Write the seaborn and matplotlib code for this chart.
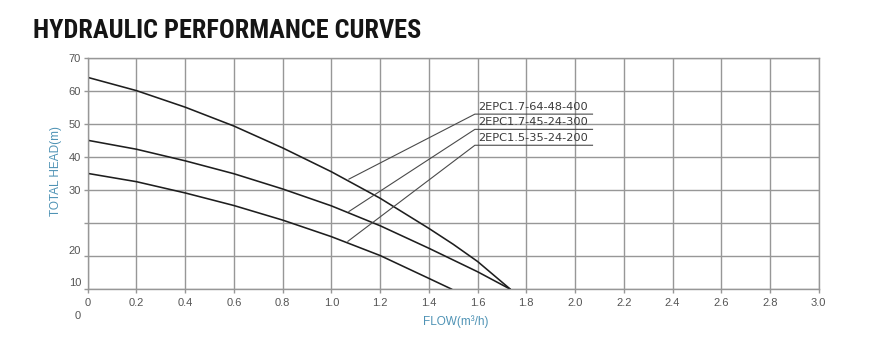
import matplotlib
matplotlib.use("Agg")
import matplotlib.pyplot as plt
import matplotlib.transforms as mtransforms
import numpy as np
import pandas as pd
import seaborn as sns

# ---------------- data ----------------
models = ["2EPC1.7-64-48-400", "2EPC1.7-45-24-300", "2EPC1.5-35-24-200"]

flow_a = [0.0, 0.2, 0.4, 0.6, 0.8, 1.0, 1.2, 1.4, 1.5, 1.6, 1.735]
head_a = [64.0, 60.0, 55.0, 49.3, 42.7, 35.5, 27.5, 18.4, 13.6, 8.4, 0.0]

flow_b = [0.0, 0.2, 0.4, 0.6, 0.8, 1.0, 1.2, 1.4, 1.6, 1.735]
head_b = [45.0, 42.3, 38.8, 34.9, 30.3, 25.2, 19.2, 12.4, 5.3, 0.0]

flow_c = [0.0, 0.2, 0.4, 0.6, 0.8, 1.0, 1.2, 1.4, 1.495]
head_c = [35.0, 32.5, 29.1, 25.3, 20.9, 15.9, 10.2, 3.3, 0.0]

# leader line: point on curve -> start of underline
leader_start_x = [1.070, 1.070, 1.066]
leader_start_y = [33.2, 23.4, 14.4]
label_x = [1.589, 1.589, 1.589]
label_y = [52.9, 48.3, 43.5]
label_end_x = 2.074

x_ticks = [0.0, 0.2, 0.4, 0.6, 0.8, 1.0, 1.2, 1.4, 1.6, 1.8, 2.0, 2.2, 2.4, 2.6, 2.8, 3.0]
x_tick_labels = ["0", "0.2", "0.4", "0.6", "0.8", "1.0", "1.2", "1.4", "1.6", "1.8",
                 "2.0", "2.2", "2.4", "2.6", "2.8", "3.0"]
y_ticks = [0, 10, 20, 30, 40, 50, 60, 70]
y_tick_labels = ["", "", "", "30", "40", "50", "60", "70"]
# the lower labels of the original sit off their grid lines
y_extra_labels = ["20", "10", "0"]
y_extra_pos = [11.65, 1.8, -8.1]

title = "HYDRAULIC PERFORMANCE CURVES"
x_label = "FLOW(m\u00b3/h)"
y_label = "TOTAL HEAD(m)"

# ---------------- frame ----------------
df = pd.concat([
    pd.DataFrame({"flow": flow_a, "head": head_a, "model": models[0]}),
    pd.DataFrame({"flow": flow_b, "head": head_b, "model": models[1]}),
    pd.DataFrame({"flow": flow_c, "head": head_c, "model": models[2]}),
], ignore_index=True)

sns.set_theme(style="white")
plt.rcParams["font.family"] = ["Liberation Sans", "DejaVu Sans"]

W, H = 870, 340
fig = plt.figure(figsize=(W / 100, H / 100), dpi=100)
fig.patch.set_facecolor("white")
ax = fig.add_axes([87.7 / W, 1 - 289.3 / H, 731 / W, 231.8 / H])

grid_c = "#979797"
ax.set_xlim(0, 3.0)
ax.set_ylim(0, 70)
ax.set_xticks(x_ticks)
ax.set_xticklabels(x_tick_labels)
ax.set_yticks(y_ticks)
ax.set_yticklabels(y_tick_labels)
ax.grid(True, color=grid_c, linewidth=1.0)
ax.set_axisbelow(True)
for s in ax.spines.values():
    s.set_color(grid_c)
    s.set_linewidth(1.0)
ax.tick_params(axis="both", direction="out", length=3, width=1.0, color=grid_c,
               labelsize=8, labelcolor="#555555")
ax.tick_params(axis="x", pad=3)
ax.tick_params(axis="y", pad=2)
ax.tick_params(bottom=True, left=True)

sns.lineplot(data=df, x="flow", y="head", hue="model", hue_order=models,
             palette=["#1e1e1e"] * 3, linewidth=1.15, legend=False, ax=ax,
             estimator=None, sort=False)
ax.set_xlabel("")
ax.set_ylabel("")

# leaders and model labels
for i, m in enumerate(models):
    ax.plot([leader_start_x[i], label_x[i], label_end_x],
            [leader_start_y[i], label_y[i], label_y[i]],
            color="#4a4a4a", linewidth=0.8, solid_capstyle="butt")
    ax.text(label_x[i] + 0.012, label_y[i] + 2.3, m, ha="left", va="center",
            fontsize=8.2, color="#3a3a3a", family=["DejaVu Sans"])

# offset lower y labels
trans = mtransforms.blended_transform_factory(ax.transAxes, ax.transData)
for lab, yp in zip(y_extra_labels, y_extra_pos):
    if lab == "0":
        ax.text(-0.0137, yp, lab, transform=trans, ha="center", va="center",
                fontsize=8, color="#555555")
    else:
        ax.text(-0.0092, yp, lab, transform=trans, ha="right", va="center",
                fontsize=8, color="#555555")

axis_c = "#4f93b5"
fig.text(455.7 / W, 1 - 321.7 / H, x_label, ha="center", va="center",
         fontsize=8.5, color=axis_c, family=["Liberation Sans", "DejaVu Sans"])
fig.text(56 / W, 1 - 170.5 / H, y_label, ha="center", va="center", rotation=90,
         fontsize=8.5, color=axis_c, family=["Liberation Sans", "DejaVu Sans"])

# title, fitted to the original width
t = fig.text(33 / W, 1 - 31.3 / H, title, ha="left", va="center", fontsize=17,
             fontweight="heavy", color="#151515",
             family=["Roboto Condensed", "Roboto", "DejaVu Sans"])
fig.canvas.draw()
bb = t.get_window_extent(renderer=fig.canvas.get_renderer())
t.set_fontsize(17 * 390.0 / bb.width)

fig.savefig("out.png", dpi=100, facecolor="white")
